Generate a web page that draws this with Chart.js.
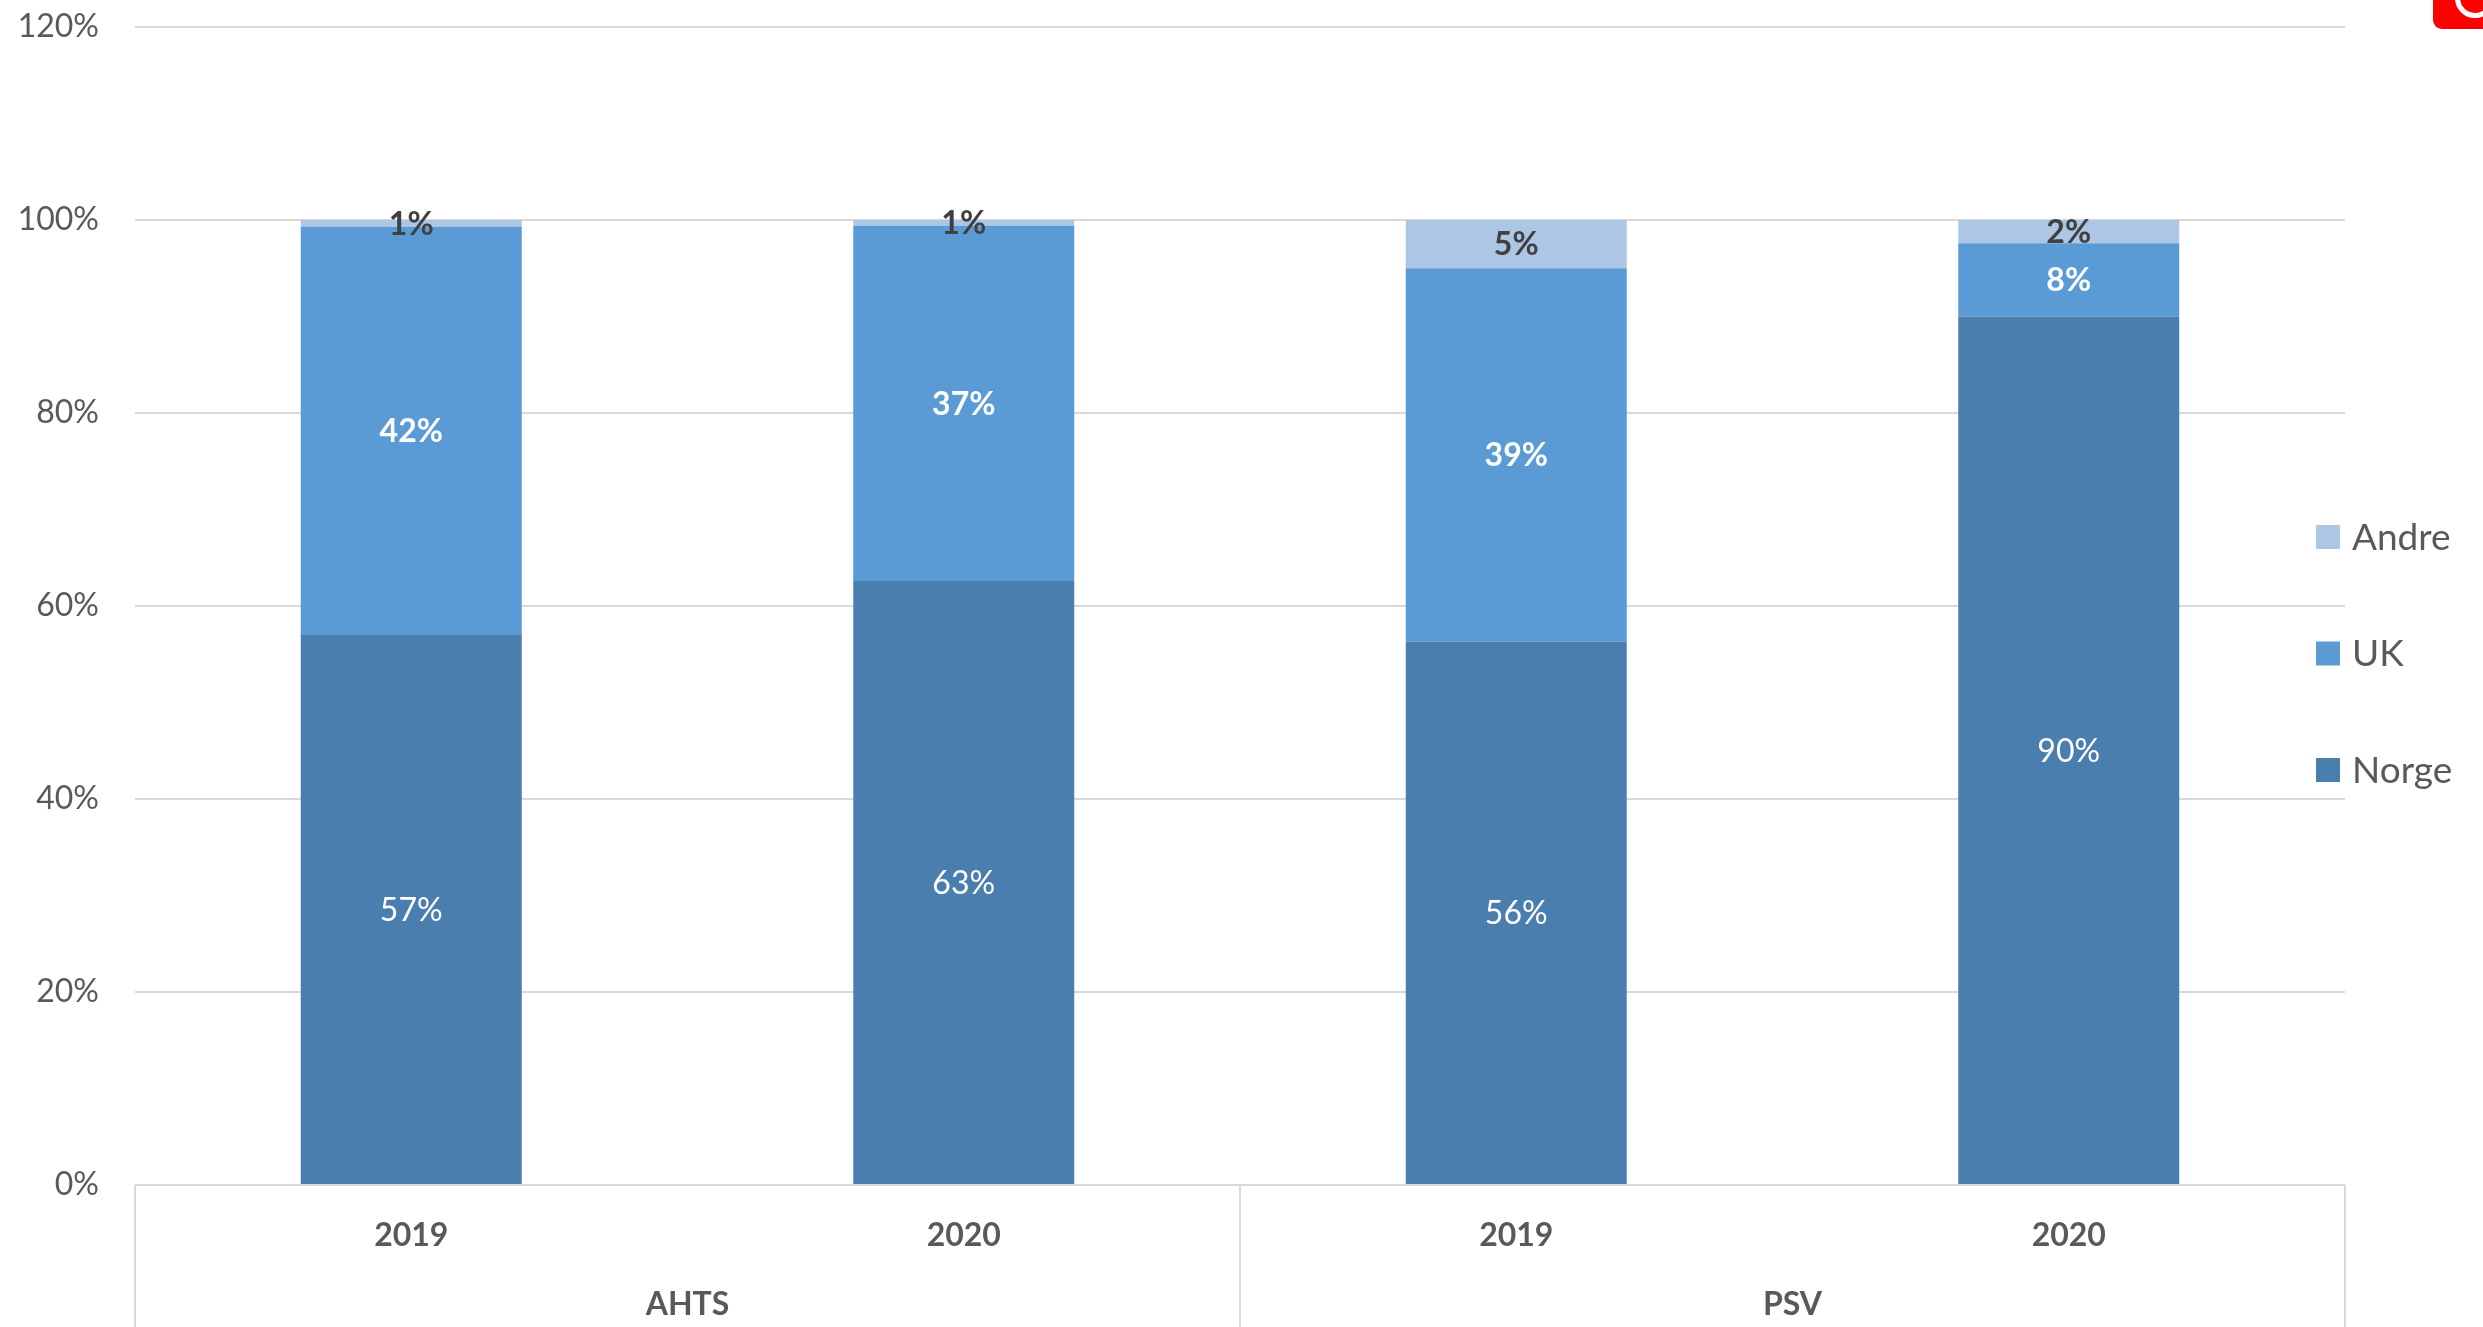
<!DOCTYPE html>
<html>
<head>
<meta charset="utf-8">
<title>Norge / UK / Andre</title>
<script src="https://cdn.jsdelivr.net/npm/chart.js@4.4.1/dist/chart.umd.min.js"></script>
<style>
    html, body { margin: 0; padding: 0; background: #fff; overflow: hidden; }
    #wrap { position: relative; width: 2483px; height: 1327px; }
    #chart { display: block; }
    .corner-badge {
        position: absolute; top: 0; left: 2433px; width: 50px; height: 29px;
        background: #ff0000; border-bottom-left-radius: 9px; overflow: hidden;
    }
    .corner-badge span {
        position: absolute; left: 22px; top: -22px; width: 30px; height: 30px;
        border: 5px solid #fff; border-radius: 50%;
    }
</style>
</head>
<body>
<div id="wrap">
    <canvas id="chart" width="2483" height="1327"></canvas>
    <div class="corner-badge"><span></span></div>
</div>
<script>
const years = ['2019', '2020', '2019', '2020'];
const groups = ['AHTS', 'PSV'];
const norgeValues = [57.0, 62.6, 56.3, 90.0];
const ukValues = [42.3, 36.8, 38.7, 7.6];
const andreValues = [0.7, 0.6, 5.0, 2.4];

const FONT = 'Lato, "Open Sans", sans-serif';
const TEXT_GREY = '#595959';

// labels inside each stacked segment
const segmentLabels = {
    id: 'segmentLabels',
    afterDatasetsDraw(chart) {
        const ctx = chart.ctx;
        ctx.save();
        ctx.textAlign = 'center';
        ctx.textBaseline = 'middle';
        chart.data.datasets.forEach((ds, i) => {
            const meta = chart.getDatasetMeta(i);
            ctx.font = `${ds.labelWeight} 32px ${FONT}`;
            ctx.fillStyle = ds.labelColor;
            meta.data.forEach((bar, j) => {
                const v = ds.data[j];
                ctx.fillText(Math.round(v) + '%', bar.x, (bar.y + bar.base) / 2 + 1);
            });
        });
        ctx.restore();
    }
};

// group row under the years + box lines
const groupAxis = {
    id: 'groupAxis',
    afterDraw(chart) {
        const { ctx, chartArea } = chart;
        const x = chart.scales.x;
        const mid = (x.getPixelForValue(1) + x.getPixelForValue(2)) / 2;
        const edges = [chartArea.left, mid, chartArea.right];
        ctx.save();
        ctx.strokeStyle = '#d9d9d9';
        ctx.lineWidth = 2;
        edges.forEach(px => {
            ctx.beginPath();
            ctx.moveTo(px, chartArea.bottom);
            ctx.lineTo(px, chart.height);
            ctx.stroke();
        });
        ctx.font = `bold 32px ${FONT}`;
        ctx.fillStyle = TEXT_GREY;
        ctx.textAlign = 'center';
        ctx.textBaseline = 'middle';
        groups.forEach((g, k) => {
            ctx.fillText(g, (edges[k] + edges[k + 1]) / 2, chartArea.bottom + 120);
        });
        ctx.restore();
    }
};

// legend on the right, top entry = top of the stack
const sideLegend = {
    id: 'sideLegend',
    afterDraw(chart) {
        const ctx = chart.ctx;
        const items = chart.data.datasets.slice().reverse();
        ctx.save();
        ctx.font = `37px ${FONT}`;
        ctx.textBaseline = 'middle';
        ctx.textAlign = 'left';
        items.forEach((ds, k) => {
            const cy = 537 + k * 116.5;
            ctx.fillStyle = ds.backgroundColor;
            ctx.fillRect(2316, cy - 12, 24, 24);
            ctx.fillStyle = TEXT_GREY;
            ctx.fillText(ds.label, 2352, cy + 1);
        });
        ctx.restore();
    }
};

new Chart(document.getElementById('chart'), {
    type: 'bar',
    data: {
        labels: years,
        datasets: [
            { label: 'Norge', data: norgeValues, backgroundColor: '#4a7eae', labelColor: '#ffffff', labelWeight: 'normal' },
            { label: 'UK', data: ukValues, backgroundColor: '#5b9bd5', labelColor: '#ffffff', labelWeight: 'bold' },
            { label: 'Andre', data: andreValues, backgroundColor: '#adc6e5', labelColor: '#404040', labelWeight: 'bold' }
        ]
    },
    options: {
        responsive: false,
        animation: false,
        devicePixelRatio: 1,
        layout: { padding: { top: 27, right: 138, left: 0, bottom: 0 } },
        datasets: { bar: { categoryPercentage: 1, barPercentage: 0.4 } },
        plugins: { legend: { display: false }, tooltip: { enabled: false } },
        scales: {
            x: {
                stacked: true,
                grid: { display: false },
                border: { display: false },
                ticks: { color: TEXT_GREY, font: { family: FONT, size: 32, weight: 'bold' }, padding: 23 },
                afterFit: (s) => { s.height = 142; s.paddingLeft = 0; s.paddingRight = 0; }
            },
            y: {
                stacked: true,
                min: 0,
                max: 120,
                grid: { color: '#d9d9d9', lineWidth: 2, drawTicks: false },
                border: { display: false },
                ticks: {
                    stepSize: 20,
                    padding: 36,
                    color: TEXT_GREY,
                    font: { family: FONT, size: 32 },
                    callback: (v) => v + '%'
                },
                afterFit: (s) => { s.width = 135; s.paddingTop = 0; s.paddingBottom = 0; }
            }
        }
    },
    plugins: [segmentLabels, groupAxis, sideLegend]
});
</script>
</body>
</html>
